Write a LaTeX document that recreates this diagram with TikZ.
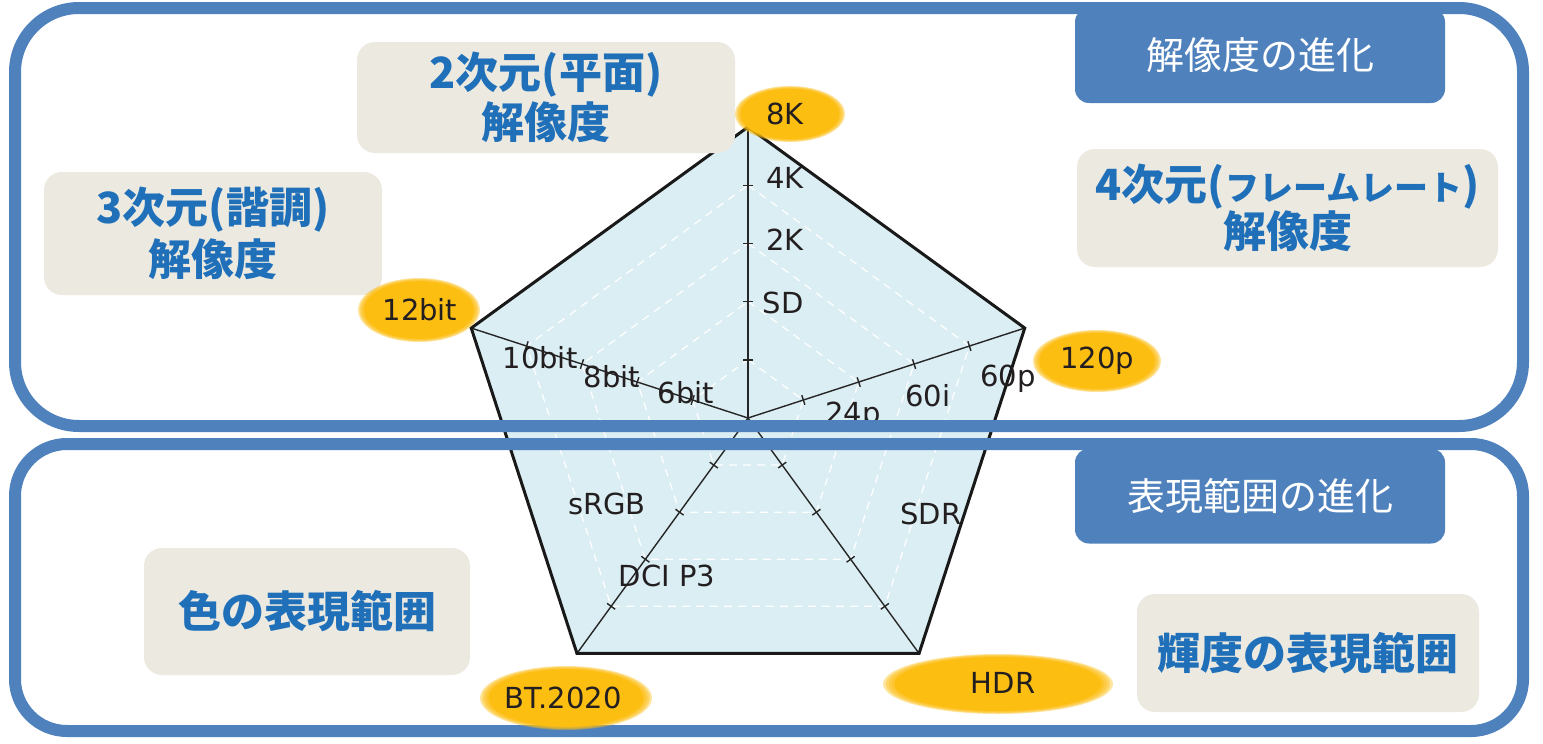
\documentclass[tikz,border=0pt]{standalone}
\usepackage{fontspec}
\setmainfont{DejaVu Sans}
\newfontfamily\jpfont{Noto Sans CJK JP}
\usetikzlibrary{positioning}

\definecolor{frameblue}{HTML}{4F81BD}
\definecolor{textblue}{HTML}{1F6FB9}
\definecolor{boxbeige}{HTML}{ECEAE0}
\definecolor{radarfill}{HTML}{DBEEF3}
\definecolor{glow}{HTML}{FDBE12}
\definecolor{labelgray}{HTML}{231F20}

% soft yellow spot: centre, x radius, y radius
\newcommand{\glowat}[3]{%
	\foreach \s in {1.00,0.975,0.95,0.925}
		\fill[glow, fill opacity=0.4] #1 ellipse [x radius=\s*#2, y radius=\s*#3];
	\fill[glow] #1 ellipse [x radius=0.9*#2, y radius=0.9*#3];
}

\tikzset{
	panel/.style={draw=frameblue, line width=6pt, rounded corners=#1},
	panel/.default=28pt,
	headbox/.style={fill=frameblue, text=white, rounded corners=7pt, inner sep=0pt,
		minimum width=185pt, minimum height=47.5pt, font=\jpfont\fontsize{19}{22}\selectfont},
	topic/.style={fill=boxbeige, text=textblue, rounded corners=9pt, inner sep=0pt, align=center,
		font=\jpfont\bfseries\fontsize{21.5}{25}\selectfont},
	gridline/.style={draw=white, line width=0.6pt, dash pattern=on 4pt off 3pt},
	axis/.style={draw=black!85, line width=0.7pt},
	outline/.style={draw=black!90, line width=1.5pt},
	value/.style={text=labelgray, inner sep=0pt, font=\fontsize{14.5}{17}\selectfont},
}

\begin{document}
\begin{tikzpicture}[x=0.5pt, y=-0.5pt]
	\fill[white] (0,0) rectangle (1543,744);
	\useasboundingbox (0,0) rectangle (1543,744);

	% radar chart
	\begin{scope}[shift={(748,418)}, yscale=-1]
		\coordinate (o) at (0,0);
		\foreach \a/\n in {90/res,18/fps,-54/lum,-126/gam,162/bit}
			\coordinate (\n) at (\a:291);
		\fill[radarfill] (res) -- (fps) -- (lum) -- (gam) -- (bit) -- cycle;
		\foreach \k in {1,...,4}
			\draw[gridline] (90:\k*58.2) -- (18:\k*58.2) -- (-54:\k*58.2)
				-- (-126:\k*58.2) -- (162:\k*58.2) -- cycle;
		\path[axis]
		(o) edge (res)
		(o) edge (fps)
		(o) edge (lum)
		(o) edge (gam)
		(o) edge (bit);
		\foreach \a in {90,18,-54,-126,162}
			\foreach \k in {1,...,4}
				\draw[axis] (\a:\k*58.2) ++(\a+90:5) -- ++(\a-90:10);
		\draw[outline] (res) -- (fps) -- (lum) -- (gam) -- (bit) -- cycle;
	\end{scope}

	\node[value] (k4)    at (785,178) {4K};
	\node[value] (k2)    at (785,240) {2K};
	\node[value] (sd)    at (783,303) {SD};
	\node[value] (b10)   at (540,358) {10bit};
	\node[value] (b8)    at (612,377) {8bit};
	\node[value] (b6)    at (686,393) {6bit};
	\node[value] (p24)   at (853,416) {24p};
	\node[value] (i60)   at (928,396) {60i};
	\node[value] (p60)   at (1008,379) {60p};
	\node[value] (srgb)  at (607,504) {sRGB};
	\node[value] (dcip3) at (667,576) {DCI P3};
	\node[value] (sdr)   at (931,514) {SDR};

	% frames
	\draw[panel=32pt] (15,8) rectangle (1523,426);
	\draw[panel=26pt] (15,444) rectangle (1523,731);

	\node[headbox] (reshead) at (1260,55.5) {解像度の進化};
	\node[headbox] (rnghead) at (1260,496) {表現範囲の進化};

	\node[topic, minimum width=189pt, minimum height=55.5pt] (plane) at (546,97.5) {2次元(平面)\\解像度};
	\node[topic, minimum width=169pt, minimum height=61.5pt,
		font=\jpfont\bfseries\fontsize{21.5}{26}\selectfont] (tone) at (213,233.5) {3次元(諧調)\\解像度};
	\node[topic, minimum width=210.5pt, minimum height=59pt,
		font=\jpfont\bfseries\fontsize{21.5}{22}\selectfont] (frame) at (1287.5,208)
		{4次元({\fontsize{17}{22}\selectfont フレームレート})\\解像度};
	\node[topic, minimum width=163pt, minimum height=63.5pt] (gamut) at (307,611.5) {色の表現範囲};
	\node[topic, minimum width=171pt, minimum height=59pt] (bright) at (1308,653) {輝度の表現範囲};

	% highlighted maximum values
	\glowat{(790,114)}{27.5pt}{14pt}
	\glowat{(419,310)}{30.5pt}{16pt}
	\glowat{(1097,361)}{32pt}{15.5pt}
	\glowat{(998,684)}{57.5pt}{15pt}
	\glowat{(566,698)}{43pt}{16pt}

	\node[value] (k8)     at (785,114) {8K};
	\node[value] (b12)    at (420,310) {12bit};
	\node[value] (p120)   at (1097,361) {120p};
	\node[value] (hdr)    at (1003,683) {HDR};
	\node[value] (bt2020) at (563,698) {BT.2020};
\end{tikzpicture}
\end{document}
